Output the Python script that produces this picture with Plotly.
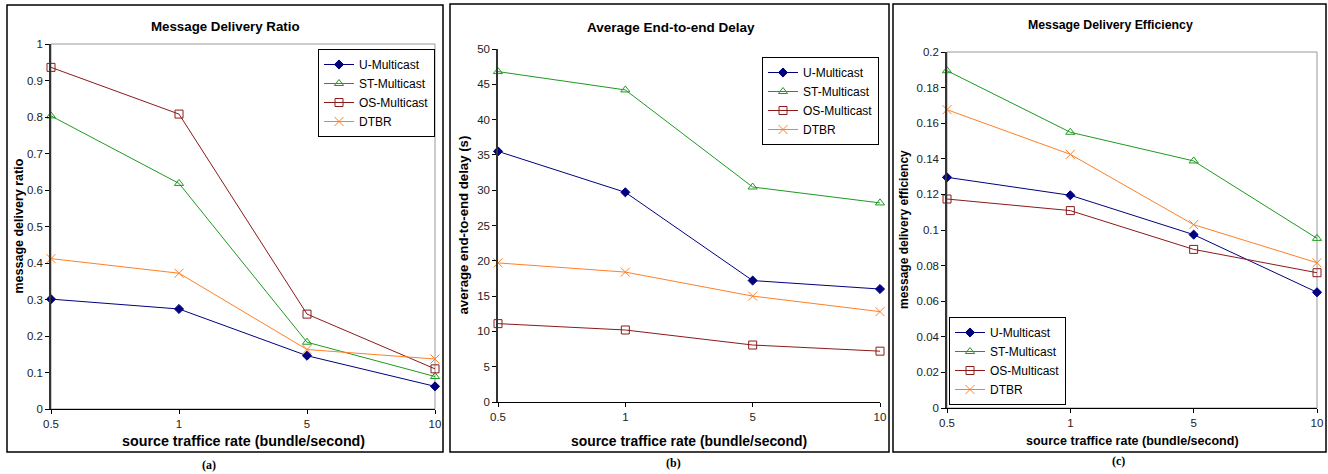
import plotly.graph_objects as go

W, H = 1328, 474

rates = ["0.5", "1", "5", "10"]
series_names = ["U-Multicast", "ST-Multicast", "OS-Multicast", "DTBR"]

# (a) Message Delivery Ratio
ratio_u = [0.301, 0.274, 0.146, 0.062]
ratio_st = [0.803, 0.618, 0.183, 0.089]
ratio_os = [0.936, 0.808, 0.260, 0.110]
ratio_dtbr = [0.412, 0.372, 0.163, 0.137]

# (b) Average End-to-end Delay (s)
delay_u = [35.5, 29.7, 17.2, 16.0]
delay_st = [46.8, 44.2, 30.45, 28.2]
delay_os = [11.1, 10.2, 8.07, 7.2]
delay_dtbr = [19.7, 18.4, 15.0, 12.8]

# (c) Message Delivery Efficiency
eff_u = [0.1296, 0.1195, 0.0974, 0.065]
eff_st = [0.1895, 0.1549, 0.1388, 0.0953]
eff_os = [0.1174, 0.1109, 0.0891, 0.076]
eff_dtbr = [0.1676, 0.1425, 0.103, 0.0816]

colors = ["#000080", "#1F9A1F", "#8B1A1A", "#FF7F27"]
symbols = ["diamond", "triangle-up-open", "square-open", "x-thin"]
msizes = [7, 8, 8, 9]

FONT = "Liberation Sans, Arial, sans-serif"

def px(x):
    return x / W

def py(y):
    return 1 - y / H

fig = go.Figure()

panels = [
    dict(data=[ratio_u, ratio_st, ratio_os, ratio_dtbr], xa="x", ya="y", legend="legend",
         xdom=(51, 435), ydom=(44, 409), yr=[0, 1],
         tickv=[0, 0.1, 0.2, 0.3, 0.4, 0.5, 0.6, 0.7, 0.8, 0.9, 1],
         tickt=["0", "0.1", "0.2", "0.3", "0.4", "0.5", "0.6", "0.7", "0.8", "0.9", "1"],
         title="Message Delivery Ratio", tpos=(225, 27), tfs=13.3,
         xtfs=14.3, ytitle="message delivery ratio", ytx=18, ytfs=12.5,
         box=(7, 5, 443, 452), grayborder=True,
         leg=(318, 49), legy="top", lab="(a)", labpos=(209, 465)),
    dict(data=[delay_u, delay_st, delay_os, delay_dtbr], xa="x2", ya="y2", legend="legend2",
         xdom=(498, 880), ydom=(49, 402), yr=[0, 50],
         tickv=[0, 5, 10, 15, 20, 25, 30, 35, 40, 45, 50],
         tickt=["0", "5", "10", "15", "20", "25", "30", "35", "40", "45", "50"],
         title="Average End-to-end Delay", tpos=(671, 28), tfs=13.5,
         xtfs=13.9, ytitle="average end-to-end delay (s)", ytx=463, ytfs=13.2,
         box=(450, 4, 889, 452), grayborder=False,
         leg=(762, 57), legy="top", lab="(b)", labpos=(673, 463)),
    dict(data=[eff_u, eff_st, eff_os, eff_dtbr], xa="x3", ya="y3", legend="legend3",
         xdom=(947, 1317), ydom=(52, 408), yr=[0, 0.2],
         tickv=[0, 0.02, 0.04, 0.06, 0.08, 0.1, 0.12, 0.14, 0.16, 0.18, 0.2],
         tickt=["0", "0.02", "0.04", "0.06", "0.08", "0.1", "0.12", "0.14", "0.16", "0.18", "0.2"],
         title="Message Delivery Efficiency", tpos=(1110, 25), tfs=12.3,
         xtfs=12.5, ytitle="message delivery efficiency", ytx=904, ytfs=12,
         box=(893, 4, 1326, 452), grayborder=True,
         leg=(949, 405), legy="bottom", lab="(c)", labpos=(1118, 461)),
]

layout = dict(
    width=W, height=H, margin=dict(l=0, r=0, t=0, b=0, autoexpand=False),
    paper_bgcolor="white", plot_bgcolor="white",
    font=dict(family=FONT, size=11, color="black"),
    shapes=[], annotations=[],
)

for i, p in enumerate(panels):
    for k in range(4):
        fig.add_trace(go.Scatter(
            x=rates, y=p["data"][k], name=series_names[k], mode="lines+markers",
            line=dict(color=colors[k], width=1),
            marker=dict(symbol=symbols[k], size=msizes[k], color=colors[k],
                        line=dict(color=colors[k], width=1)),
            xaxis=p["xa"], yaxis=p["ya"], legend=p["legend"], cliponaxis=False,
        ))
    xkey = "xaxis" if i == 0 else f"xaxis{i+1}"
    ykey = "yaxis" if i == 0 else f"yaxis{i+1}"
    layout[xkey] = dict(
        domain=[px(p["xdom"][0]), px(p["xdom"][1])], anchor=p["ya"],
        type="category", range=[0, 3], showgrid=False, zeroline=False,
        showline=True, linecolor="black", linewidth=1,
        ticks="outside", ticklen=4, tickcolor="black",
        tickfont=dict(size=11.5, color="#222"), automargin=False,
    )
    layout[ykey] = dict(
        domain=[py(p["ydom"][1]), py(p["ydom"][0])], anchor=p["xa"],
        range=p["yr"], tickvals=p["tickv"], ticktext=p["tickt"],
        showgrid=False, zeroline=False,
        showline=True, linecolor="#333", linewidth=1.5,
        ticks="outside", ticklen=4, tickcolor="black",
        tickfont=dict(size=11.5, color="#222"), automargin=False,
    )
    lk = p["legend"]
    layout[lk] = dict(
        x=px(p["leg"][0]), y=py(p["leg"][1]), xanchor="left", yanchor=p["legy"],
        bgcolor="white", bordercolor="black", borderwidth=1,
        font=dict(size=12, family=FONT), tracegroupgap=0,
        itemwidth=30,
    )
    b = p["box"]
    layout["shapes"].append(dict(type="rect", xref="paper", yref="paper",
                                 x0=px(b[0]), x1=px(b[2]), y0=py(b[3]), y1=py(b[1]),
                                 line=dict(color="black", width=1.5), layer="below"))
    if p["grayborder"]:
        layout["shapes"].append(dict(type="rect", xref=f"{p['xa']} domain", yref=f"{p['ya']} domain",
                                     x0=0, x1=1, y0=0, y1=1,
                                     line=dict(color="#999", width=1), layer="below"))
    layout["annotations"].append(dict(text=f"<b>{p['title']}</b>", xref="paper", yref="paper",
                                      x=px(p["tpos"][0]), y=py(p["tpos"][1]), showarrow=False,
                                      xanchor="center", yanchor="middle",
                                      font=dict(size=p["tfs"], family=FONT)))
    xc = (p["xdom"][0] + p["xdom"][1]) / 2
    layout["annotations"].append(dict(text="<b>source traffice rate (bundle/second)</b>", xref="paper", yref="paper",
                                      x=px(xc), y=py(441), showarrow=False,
                                      xanchor="center", yanchor="middle",
                                      font=dict(size=p["xtfs"], family=FONT)))
    yc = (p["ydom"][0] + p["ydom"][1]) / 2
    layout["annotations"].append(dict(text=f"<b>{p['ytitle']}</b>", xref="paper", yref="paper",
                                      x=px(p["ytx"]), y=py(yc), showarrow=False, textangle=-90,
                                      xanchor="center", yanchor="middle",
                                      font=dict(size=p["ytfs"], family=FONT)))
    layout["annotations"].append(dict(text=f"<b>{p['lab']}</b>", xref="paper", yref="paper",
                                      x=px(p["labpos"][0]), y=py(p["labpos"][1]), showarrow=False,
                                      xanchor="center", yanchor="middle",
                                      font=dict(size=12, family="Liberation Serif, Times New Roman, serif")))

fig.update_layout(**layout)
fig.write_html("out.html", config={"displayModeBar": False},
               post_script="document.body.style.margin='0';document.body.style.overflow='hidden';")
